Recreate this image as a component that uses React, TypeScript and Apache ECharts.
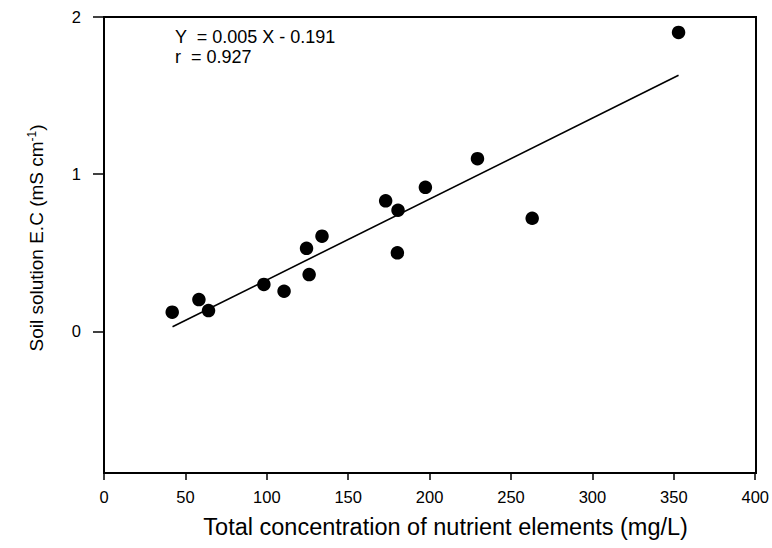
import React, { useEffect, useRef } from "react";
import * as echarts from "echarts";

const xValues = [41.9, 58.3, 64.2, 98.2, 110.6, 126.0, 124.4, 133.9, 173.0, 180.6, 180.2, 197.4, 229.4, 263.0, 352.9];
const yValues = [0.123, 0.203, 0.133, 0.299, 0.256, 0.362, 0.529, 0.606, 0.831, 0.771, 0.5, 0.917, 1.099, 0.72, 1.902];
const fitX = [42.1, 352.9];
const fitY = [0.03, 1.629];
const yTicks = [0, 1, 2];
const equationLines = ["Y  = 0.005 X - 0.191", "r  = 0.927"];
const xTitle = "Total concentration of nutrient elements (mg/L)";

export default function App() {
  const ref = useRef<HTMLDivElement>(null);
  useEffect(() => {
    if (!ref.current) return;
    const chart = echarts.init(ref.current, null, { renderer: "svg" });
    const font = "'Liberation Sans', Arial, sans-serif";
    chart.setOption({
      animation: false,
      backgroundColor: "#fff",
      textStyle: { fontFamily: font, color: "#000" },
      grid: { left: 104, right: 16, top: 17, bottom: 75, show: false },
      xAxis: {
        type: "value",
        min: 0,
        max: 400,
        interval: 50,
        name: xTitle,
        nameLocation: "middle",
        nameGap: 42,
        nameTextStyle: { fontSize: 23.5, color: "#000", fontFamily: font, padding: [0, 0, 0, 32] },
        axisLine: { show: true, onZero: false, lineStyle: { color: "#000", width: 2 } },
        axisTick: { show: true, length: 7, lineStyle: { color: "#000", width: 1.5 } },
        axisLabel: { fontSize: 16.5, color: "#000", margin: 15, fontFamily: font },
        splitLine: { show: false },
      },
      yAxis: {
        type: "value",
        min: -0.9,
        max: 2,
        name: "Soil solution E.C (mS cm{sup|-1})",
        nameLocation: "middle",
        nameGap: 57,
        nameTextStyle: {
          fontSize: 19,
          color: "#000",
          fontFamily: font,
          padding: [0, 0, 0, 14],
          rich: { sup: { fontSize: 12, color: "#000", fontFamily: font, verticalAlign: "top", padding: [0, 0, 9, 0] } },
        },
        axisLine: { show: true, onZero: false, lineStyle: { color: "#000", width: 2 } },
        axisTick: { show: true, length: 11, customValues: yTicks, lineStyle: { color: "#000", width: 1.5 } },
        axisLabel: { fontSize: 16.5, color: "#000", margin: 23, customValues: yTicks, fontFamily: font },
        splitLine: { show: false },
      },
      series: [
        {
          type: "scatter",
          data: xValues.map((x, i) => [x, yValues[i]]),
          symbol: "circle",
          symbolSize: 13.5,
          itemStyle: { color: "#000", opacity: 1 },
        },
        {
          type: "line",
          data: fitX.map((x, i) => [x, fitY[i]]),
          symbol: "none",
          lineStyle: { color: "#000", width: 1.6 },
        },
      ],
      graphic: [
        {
          type: "rect",
          shape: { x: 104, y: 17, width: 652, height: 456 },
          style: { fill: "none", stroke: "#000", lineWidth: 2 },
          silent: true,
        },
        ...equationLines.map((t, i) => ({
          type: "text",
          left: 175,
          top: 28 + i * 20,
          style: { text: t, fontSize: 18, fill: "#000", fontFamily: font },
        })),
      ],
    });
    return () => chart.dispose();
  }, []);
  return <div ref={ref} style={{ width: 772, height: 548, position: "absolute", left: 0, top: 0 }} />;
}
